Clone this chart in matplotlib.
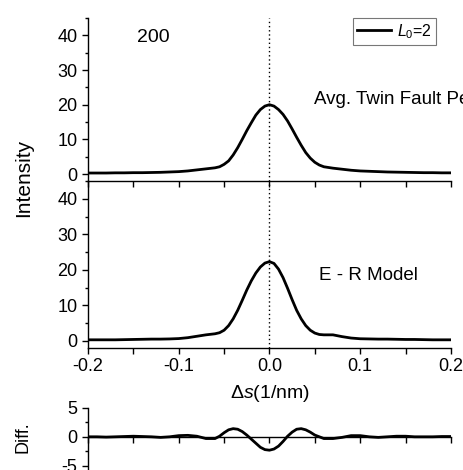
import matplotlib
matplotlib.use("Agg")
import matplotlib.pyplot as plt
from matplotlib.ticker import MultipleLocator, FormatStrFormatter

plt.rcParams["font.family"] = ["Liberation Sans", "DejaVu Sans"]
plt.rcParams["mathtext.fontset"] = "custom"
plt.rcParams["mathtext.rm"] = "Liberation Sans"
plt.rcParams["mathtext.it"] = "Liberation Sans:italic"
plt.rcParams["axes.unicode_minus"] = False

# Data
ds = [-0.2, -0.19, -0.18, -0.17, -0.16, -0.15, -0.14, -0.13, -0.12, -0.11,
      -0.10, -0.09, -0.08, -0.07, -0.06, -0.055, -0.05, -0.045, -0.04, -0.035,
      -0.03, -0.025, -0.02, -0.015, -0.01, -0.005, 0.0, 0.005, 0.01, 0.015,
      0.02, 0.025, 0.03, 0.035, 0.04, 0.045, 0.05, 0.055, 0.06, 0.07,
      0.08, 0.09, 0.10, 0.11, 0.12, 0.13, 0.14, 0.15, 0.16, 0.17,
      0.18, 0.19, 0.2]

avg_twin = [0.3, 0.3, 0.3, 0.35, 0.35, 0.4, 0.4, 0.45, 0.5, 0.6,
            0.7, 0.9, 1.2, 1.5, 1.8, 2.1, 2.8, 3.8, 5.5, 7.6,
            10.0, 12.5, 14.8, 17.0, 18.6, 19.6, 20.0, 19.6, 18.6, 17.2,
            15.3, 13.0, 10.6, 8.3, 6.2, 4.6, 3.4, 2.6, 2.1, 1.7,
            1.4, 1.1, 0.9, 0.8, 0.7, 0.6, 0.55, 0.5, 0.45, 0.4,
            0.4, 0.35, 0.35]

er_model = [0.3, 0.3, 0.3, 0.3, 0.35, 0.4, 0.45, 0.5, 0.5, 0.55,
            0.65, 0.9, 1.3, 1.7, 2.0, 2.3, 3.0, 4.3, 6.2, 8.6,
            11.4, 14.3, 16.9, 19.1, 20.8, 21.9, 22.3, 21.8, 20.2, 17.8,
            14.8, 11.6, 8.6, 6.2, 4.3, 3.0, 2.2, 1.8, 1.7, 1.7,
            1.2, 0.8, 0.6, 0.55, 0.5, 0.5, 0.45, 0.4, 0.4, 0.35,
            0.3, 0.3, 0.3]

diff = [0.0, 0.0, -0.05, 0.0, 0.05, 0.1, 0.05, 0.0, -0.1, 0.0,
        0.2, 0.25, 0.1, -0.3, -0.3, 0.1, 0.7, 1.2, 1.4, 1.3,
        0.9, 0.3, -0.4, -1.1, -1.8, -2.2, -2.3, -2.1, -1.6, -0.8,
        0.1, 0.8, 1.3, 1.4, 1.2, 0.8, 0.3, 0.0, -0.3, -0.3,
        -0.1, 0.2, 0.2, 0.0, -0.1, 0.0, 0.1, 0.1, 0.0, 0.0,
        0.0, 0.05, 0.05]

fig = plt.figure(figsize=(4.64, 4.70), dpi=100)

ax1 = fig.add_axes([0.1897, 0.6149, 0.782, 0.3468])
ax2 = fig.add_axes([0.1897, 0.2596, 0.782, 0.3553])
ax3 = fig.add_axes([0.1897, 0.0, 0.782, 0.1326])

for ax in (ax1, ax2, ax3):
    ax.patch.set_visible(False)
    ax.set_xlim(-0.2, 0.2)
    ax.spines["top"].set_visible(False)
    ax.spines["right"].set_visible(False)
    ax.spines["left"].set_linewidth(1.0)
    ax.spines["bottom"].set_linewidth(1.0)
    ax.xaxis.set_major_locator(MultipleLocator(0.1))
    ax.xaxis.set_minor_locator(MultipleLocator(0.05))
    ax.tick_params(which="both", direction="out", labelsize=13, width=1.0)
    ax.tick_params(axis="x", which="both", length=4)
    ax.tick_params(axis="y", which="major", length=4.5, pad=3)
    ax.tick_params(axis="y", which="minor", length=2.5)

# top panel: averaged twin fault profile
ln, = ax1.plot(ds, avg_twin, color="black", lw=2, label=r"$L_0$=2")
ax1.axvline(0, color="black", lw=1, ls=(0, (1, 2)))
ax1.set_ylim(-2, 45)
ax1.yaxis.set_major_locator(MultipleLocator(10))
ax1.yaxis.set_minor_locator(MultipleLocator(5))
ax1.tick_params(axis="x", which="both", labelbottom=False)

# middle panel: E - R model
ax2.plot(ds, er_model, color="black", lw=2)
ax2.axvline(0, color="black", lw=1, ls=(0, (1, 2)))
ax2.set_ylim(-2, 45)
ax2.yaxis.set_major_locator(MultipleLocator(10))
ax2.yaxis.set_minor_locator(MultipleLocator(5))
ax2.xaxis.set_major_formatter(FormatStrFormatter("%.1f"))

# bottom panel: difference
ax3.plot(ds, diff, color="black", lw=2)
ax3.set_ylim(-5.7, 5)
ax3.spines["bottom"].set_position(("data", 0))
ax3.yaxis.set_major_locator(MultipleLocator(5))
ax3.yaxis.set_minor_locator(MultipleLocator(2.5))
ax3.tick_params(axis="x", which="both", labelbottom=False)

# texts
fig.text(137 / 464, 1 - 38 / 470, "200", fontsize=14, va="center", ha="left")
fig.text(314 / 464, 1 - 100 / 470, "Avg. Twin Fault Period", fontsize=13.5,
         va="center", ha="left")
fig.text(319 / 464, 1 - 276 / 470, "E - R Model", fontsize=13.5,
         va="center", ha="left")
fig.text(269.5 / 464, 1 - 393 / 470, "Δ$s$(1/nm)", fontsize=14,
         va="center", ha="center")
fig.text(23.5 / 464, 1 - 178 / 470, "Intensity", fontsize=15, rotation=90,
         va="center", ha="center")
fig.text(23.5 / 464, 1 - 437 / 470, "Diff.", fontsize=13, rotation=90,
         va="center", ha="center")

leg = fig.legend(handles=[ln], loc="upper left",
                 bbox_to_anchor=(353 / 464, 1 - 18 / 470),
                 bbox_transform=fig.transFigure, fontsize=11.5, frameon=True,
                 fancybox=False, borderpad=0.25, handlelength=2.1,
                 handletextpad=0.4, borderaxespad=0)
leg.get_frame().set_edgecolor("#555555")
leg.get_frame().set_linewidth(0.8)

fig.savefig("out.png", dpi=100)
